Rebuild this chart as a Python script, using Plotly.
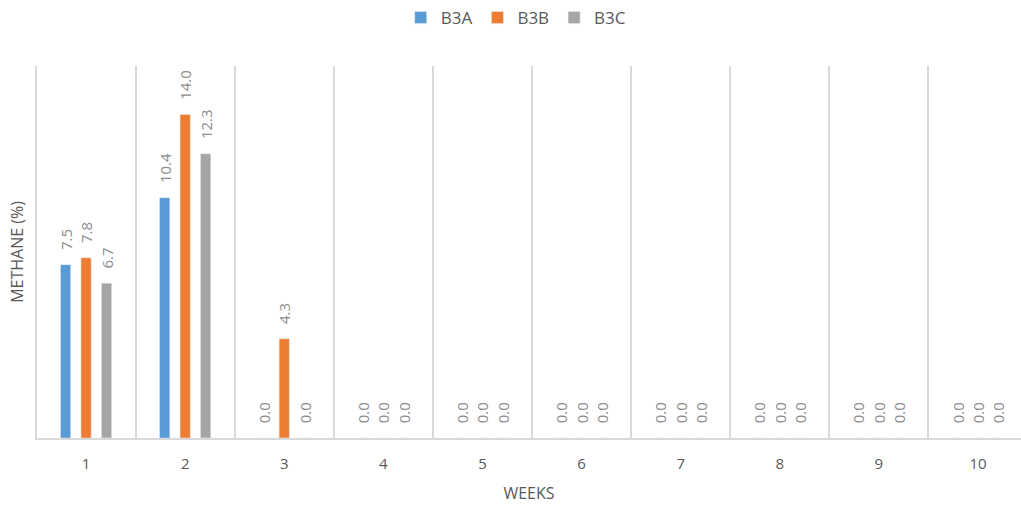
import plotly.graph_objects as go

weeks = [1, 2, 3, 4, 5, 6, 7, 8, 9, 10]
week_labels = ["1", "2", "3", "4", "5", "6", "7", "8", "9", "10"]
b3a = [7.5, 10.4, 0.0, 0.0, 0.0, 0.0, 0.0, 0.0, 0.0, 0.0]
b3b = [7.8, 14.0, 4.3, 0.0, 0.0, 0.0, 0.0, 0.0, 0.0, 0.0]
b3c = [6.7, 12.3, 0.0, 0.0, 0.0, 0.0, 0.0, 0.0, 0.0, 0.0]

series = [("B3A", b3a, "#5B9BD5"), ("B3B", b3b, "#ED7D31"), ("B3C", b3c, "#A5A5A5")]

FONT = "Open Sans, Lato, sans-serif"
GRID = "#d9d9d9"
PAD = "\u00a0" * 3  # spacing between bar end and its rotated value label

fig = go.Figure()
for name, vals, color in series:
    fig.add_trace(go.Bar(
        x=weeks, y=vals, name=name, marker_color=color,
        text=[PAD + f"{v:.1f}" for v in vals], textposition="outside",
        textangle=-90, constraintext="none",
        textfont=dict(size=15, color="#8c8c8c", family=FONT),
        cliponaxis=False,
    ))

fig.update_layout(
    width=1021, height=506,
    margin=dict(l=37, r=0, t=65, b=68),
    paper_bgcolor="white", plot_bgcolor="white",
    barmode="group", bargap=0.38, bargroupgap=0.5,
    font=dict(family=FONT, color="#595959"),
    legend=dict(orientation="h", x=0.487, xanchor="center", y=1.129, yanchor="middle",
                font=dict(size=17, color="#595959"), itemwidth=30, traceorder="normal"),
    xaxis=dict(
        range=[0.505, 10.434], tickvals=weeks, ticktext=week_labels,
        showgrid=False, zeroline=False, showline=True, linecolor=GRID, linewidth=2,
        ticks="", tickfont=dict(size=15, color="#595959"), ticklabelstandoff=11,
        minor=dict(tick0=0.5, dtick=1, showgrid=True, gridcolor=GRID, gridwidth=2),
        title=dict(text="WEEKS", font=dict(size=16, color="#595959"), standoff=16),
    ),
    yaxis=dict(
        range=[0, 16.1], showticklabels=False, showgrid=False, zeroline=False,
        showline=True, linecolor=GRID, linewidth=2,
        title=dict(text="METHANE (%)", font=dict(size=16, color="#595959"), standoff=7),
    ),
)

fig.write_html("out.html")
